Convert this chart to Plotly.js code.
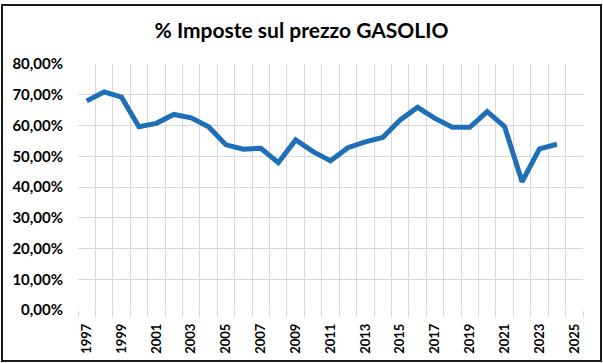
<!DOCTYPE html>
<html>
<head>
<meta charset="utf-8">
<script src="https://cdn.plot.ly/plotly-3.0.1.min.js"></script>
<style>
  html, body { margin: 0; padding: 0; background: #ffffff; }
  #wrap { position: relative; width: 603px; height: 363px; }
  #chart { width: 603px; height: 363px; }
  #frame { position: absolute; left: 1px; top: 4px; width: 597px; height: 354px;
           border: 2px solid #1a1a1a; pointer-events: none; }
</style>
</head>
<body>
<div id="wrap">
  <div id="chart"></div>
  <div id="frame"></div>
</div>
<script>
const years = [1997,1998,1999,2000,2001,2002,2003,2004,2005,2006,2007,2008,2009,2010,
               2011,2012,2013,2014,2015,2016,2017,2018,2019,2020,2021,2022,2023,2024];
const taxShare = [68.0,70.9,69.2,59.6,60.7,63.6,62.5,59.6,53.7,52.3,52.6,47.9,55.3,51.5,
                  48.5,52.8,54.7,56.1,61.8,65.9,62.3,59.4,59.4,64.5,59.6,41.7,52.4,53.9];
const firstYear = 1997;
const lastYear = 2025;
const titleText = '% Imposte sul prezzo GASOLIO';

const FONT = 'Lato, "Open Sans", sans-serif';
const GRID = '#d9d9d9';

const traces = [
  {
    // invisible copy so the labelled category axis is drawn
    x: years, y: taxShare,
    type: 'scatter', mode: 'lines',
    line: { color: 'rgba(0,0,0,0)', width: 0 },
    xaxis: 'x2', yaxis: 'y',
    hoverinfo: 'skip'
  },
  {
    x: years,
    y: taxShare,
    type: 'scatter',
    mode: 'lines',
    line: { color: '#1f6fb6', width: 5 },
    xaxis: 'x',
    yaxis: 'y',
    hoverinfo: 'x+y'
  }
];

const layout = {
  width: 603,
  height: 363,
  paper_bgcolor: '#ffffff',
  plot_bgcolor: '#ffffff',
  margin: { l: 78, r: 20, t: 64, b: 53 },
  separators: ',.',
  showlegend: false,
  title: {
    text: titleText,
    font: { family: FONT, size: 21, color: '#000000', weight: 'bold' },
    x: 0.5, xref: 'container', xanchor: 'center',
    y: 1 - 31 / 363, yref: 'container', yanchor: 'middle'
  },
  xaxis: {
    range: [firstYear - 0.5, lastYear + 0.5],
    tickmode: 'linear', tick0: firstYear - 0.5, dtick: 1,
    showticklabels: false,
    showgrid: true, gridcolor: GRID, gridwidth: 1,
    ticks: 'outside', ticklen: 6, tickcolor: GRID,
    zeroline: false, showline: false,
    fixedrange: true
  },
  xaxis2: {
    overlaying: 'x', anchor: 'y', side: 'bottom',
    range: [firstYear - 0.5, lastYear + 0.5],
    tickmode: 'linear', tick0: firstYear, dtick: 2,
    tickangle: -90,
    tickfont: { family: FONT, size: 13, color: '#000000', weight: 'bold' },
    showgrid: false, zeroline: false, showline: false,
    ticks: '', ticklabelstandoff: 10,
    fixedrange: true
  },
  yaxis: {
    range: [0, 80],
    tickmode: 'linear', tick0: 0, dtick: 10,
    tickformat: '.2f', ticksuffix: '%',
    tickfont: { family: FONT, size: 15, color: '#000000', weight: 'bold' },
    showgrid: true, gridcolor: GRID, gridwidth: 1,
    zeroline: false, showline: false,
    ticks: '', ticklabelstandoff: 14,
    fixedrange: true
  }
};

Plotly.newPlot('chart', traces, layout, { displayModeBar: false, staticPlot: true });
</script>
</body>
</html>
